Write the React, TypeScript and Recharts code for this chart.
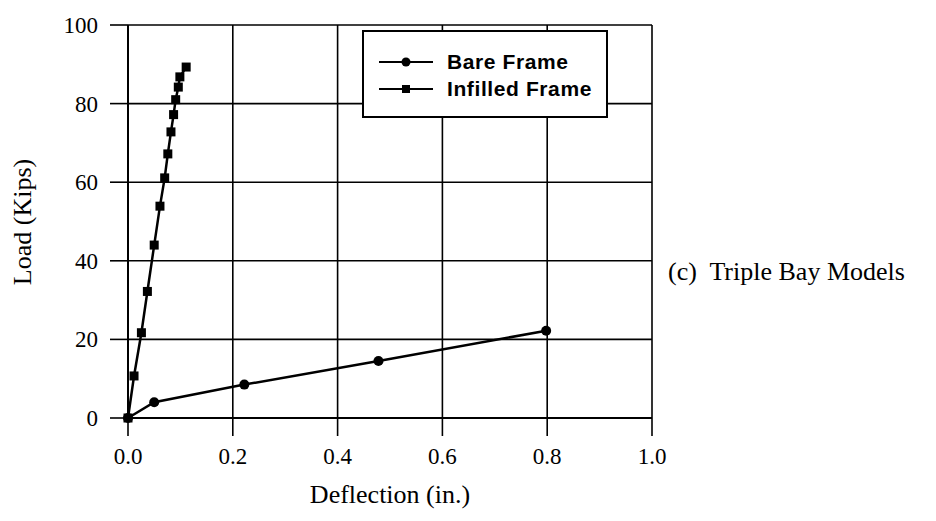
import { LineChart, Line, XAxis, YAxis, CartesianGrid, Legend } from "recharts";

// Load–deflection curves, triple bay models
const bareDeflection = [0, 0.05, 0.222, 0.478, 0.798];
const bareLoad = [0, 4.0, 8.5, 14.5, 22.2];

const infilledDeflection = [
  0, 0.0115, 0.0256, 0.037, 0.05, 0.061, 0.07, 0.076, 0.082, 0.087, 0.091, 0.096, 0.099, 0.111,
];
const infilledLoad = [0, 10.7, 21.7, 32.2, 44.0, 53.9, 61.1, 67.2, 72.8, 77.2, 81.0, 84.2, 86.8, 89.3];

const xTicks = [0, 0.2, 0.4, 0.6, 0.8, 1.0];
const yTicks = [0, 20, 40, 60, 80, 100];
const seriesNames = ["Bare Frame", "Infilled Frame"];

const SERIF = "Liberation Serif, Times New Roman, serif";
const SANS = "Liberation Sans, Arial, Helvetica, sans-serif";

const bareData = bareDeflection.map((d, i) => ({ d, load: bareLoad[i] }));
const infilledData = infilledDeflection.map((d, i) => ({ d, load: infilledLoad[i] }));

const SquareDot = (props: any) => {
  const { cx, cy, index } = props;
  return <rect key={`sq-${index}`} x={cx - 4.5} y={cy - 4.5} width={9} height={9} fill="#000" />;
};

const CircleDot = (props: any) => {
  const { cx, cy, index } = props;
  return <circle key={`c-${index}`} cx={cx} cy={cy} r={5} fill="#000" />;
};

// serif tick labels, drawn by hand so the font sticks
const XTick = (props: any) => {
  const { x, y, payload } = props;
  return (
    <text x={x} y={y + 18} textAnchor="middle" fontFamily={SERIF} fontSize={23} fill="#000">
      {Number(payload.value).toFixed(1)}
    </text>
  );
};

const YTick = (props: any) => {
  const { x, y, payload } = props;
  return (
    <text x={x} y={y + 8} textAnchor="end" fontFamily={SERIF} fontSize={23} fill="#000">
      {payload.value}
    </text>
  );
};

function LegendBox() {
  const row = (name: string, square: boolean) => (
    <div key={name} style={{ display: "flex", alignItems: "center", height: 27 }}>
      <svg width={56} height={12} style={{ marginLeft: 15, marginRight: 12 }}>
        <line x1={0} y1={6} x2={54} y2={6} stroke="#000" strokeWidth={2} />
        {square ? (
          <rect x={23} y={2} width={8} height={8} fill="#000" />
        ) : (
          <circle cx={27} cy={6} r={4.5} fill="#000" />
        )}
      </svg>
      <span style={{ fontFamily: SANS, fontSize: 21, fontWeight: "bold", letterSpacing: 0.6, color: "#000" }}>
        {name}
      </span>
    </div>
  );
  return (
    <div
      style={{
        boxSizing: "border-box",
        width: 246,
        height: 88,
        border: "2px solid #000",
        background: "#fff",
        paddingTop: 16,
      }}
    >
      {row(seriesNames[0], false)}
      {row(seriesNames[1], true)}
    </div>
  );
}

export default function App() {
  return (
    <div style={{ position: "absolute", left: 0, top: 0, width: 936, height: 521, background: "#fff" }}>
      <LineChart width={936} height={521} margin={{ top: 25, right: 284, bottom: 53, left: 58 }}>
        <CartesianGrid stroke="#000" strokeWidth={1.6} horizontalValues={yTicks} verticalValues={xTicks} />
        <XAxis
          type="number"
          dataKey="d"
          domain={[0, 1]}
          ticks={xTicks}
          height={50}
          tickSize={18}
          tickMargin={10}
          axisLine={{ stroke: "#000", strokeWidth: 2 }}
          tickLine={{ stroke: "#000", strokeWidth: 1.6 }}
          tick={XTick}
        />
        <YAxis
          type="number"
          dataKey="load"
          domain={[0, 100]}
          ticks={yTicks}
          width={70}
          tickSize={18}
          tickMargin={12}
          axisLine={{ stroke: "#000", strokeWidth: 2 }}
          tickLine={{ stroke: "#000", strokeWidth: 1.6 }}
          tick={YTick}
        />
        <Legend
          layout="vertical"
          align="center"
          verticalAlign="middle"
          content={<LegendBox />}
          wrapperStyle={{ position: "absolute", left: 362, top: 30, width: 246, height: 88 }}
        />
        <Line
          data={bareData}
          dataKey="load"
          name={seriesNames[0]}
          type="linear"
          stroke="#000"
          strokeWidth={2.5}
          dot={CircleDot}
          activeDot={false}
          isAnimationActive={false}
        />
        <Line
          data={infilledData}
          dataKey="load"
          name={seriesNames[1]}
          type="linear"
          stroke="#000"
          strokeWidth={2.5}
          dot={SquareDot}
          activeDot={false}
          isAnimationActive={false}
        />
        <text x={390} y={503} textAnchor="middle" fontFamily={SERIF} fontSize={26} fill="#000">
          Deflection (in.)
        </text>
        <text
          x={22}
          y={222}
          transform="rotate(-90 22 222)"
          textAnchor="middle"
          dominantBaseline="central"
          fontFamily={SERIF}
          fontSize={26}
          fill="#000"
        >
          Load (Kips)
        </text>
        <text x={668} y={280} fontFamily={SERIF} fontSize={26} fill="#000" style={{ whiteSpace: "pre" }}>
          {"(c)  Triple Bay Models"}
        </text>
      </LineChart>
    </div>
  );
}
